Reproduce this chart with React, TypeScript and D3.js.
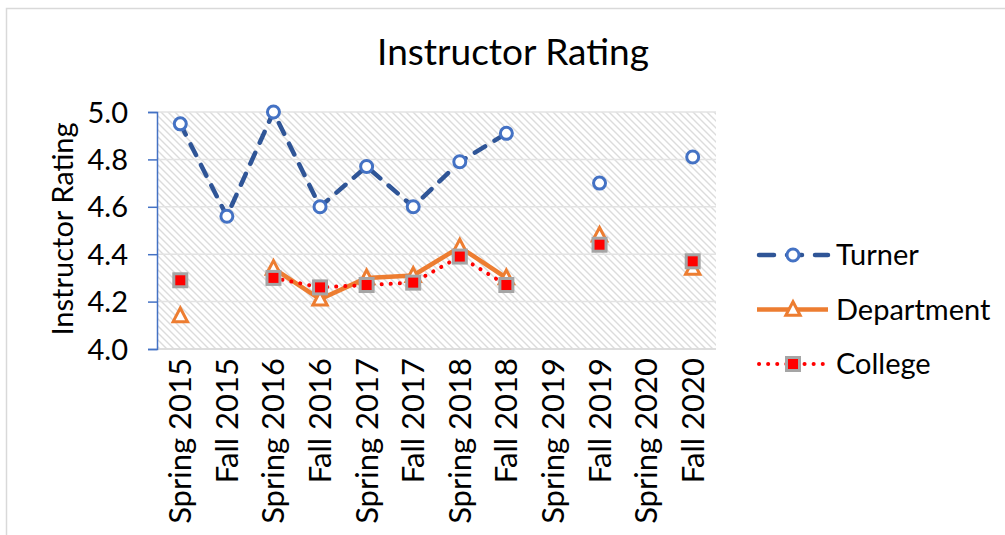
import { useRef, useEffect } from "react";
import * as d3 from "d3";

const categories = [
  "Spring 2015",
  "Fall 2015",
  "Spring 2016",
  "Fall 2016",
  "Spring 2017",
  "Fall 2017",
  "Spring 2018",
  "Fall 2018",
  "Spring 2019",
  "Fall 2019",
  "Spring 2020",
  "Fall 2020",
];
const turner = [4.95, 4.56, 5.0, 4.6, 4.77, 4.6, 4.79, 4.91, null, 4.7, null, 4.81];
const department = [4.14, null, 4.34, 4.21, 4.3, 4.31, 4.43, 4.3, null, 4.48, null, 4.34];
const college = [4.29, null, 4.3, 4.26, 4.27, 4.28, 4.39, 4.27, null, 4.44, null, 4.37];
const yTicks = [4.0, 4.2, 4.4, 4.6, 4.8, 5.0];
const seriesNames = ["Turner", "Department", "College"];

const FONT = "Lato, 'Open Sans', sans-serif";

export default function App() {
  const svgRef = useRef<SVGSVGElement | null>(null);

  useEffect(() => {
    const svg = d3.select(svgRef.current);
    svg.selectAll("*").remove();

    const W = 1005;
    const H = 535;
    const plot = { left: 157, right: 716, top: 112, bottom: 349 };

    // chart frame
    svg
      .append("rect")
      .attr("x", 6.5)
      .attr("y", 8.5)
      .attr("width", W)
      .attr("height", H)
      .attr("fill", "#fff")
      .attr("stroke", "#d9d9d9")
      .attr("stroke-width", 1.5);

    const defs = svg.append("defs");
    const pat = defs
      .append("pattern")
      .attr("id", "hatch")
      .attr("patternUnits", "userSpaceOnUse")
      .attr("width", 7)
      .attr("height", 7);
    pat
      .append("path")
      .attr("d", "M-1,-1 L8,8 M-1,6 L1,8 M6,-1 L8,1")
      .attr("stroke", "#dcdcdc")
      .attr("stroke-width", 1.4);

    const x = d3.scaleBand<string>().domain(categories).range([plot.left, plot.right]);
    const cx = (c: string) => (x(c) as number) + x.bandwidth() / 2;
    const y = d3.scaleLinear().domain([4, 5]).range([plot.bottom, plot.top]);

    // plot background hatch
    svg
      .append("rect")
      .attr("x", plot.left)
      .attr("y", plot.top)
      .attr("width", plot.right - plot.left)
      .attr("height", plot.bottom - plot.top)
      .attr("fill", "url(#hatch)");

    // gridlines
    svg
      .append("g")
      .selectAll("line")
      .data(yTicks)
      .join("line")
      .attr("x1", plot.left)
      .attr("x2", plot.right)
      .attr("y1", (d) => y(d))
      .attr("y2", (d) => y(d))
      .attr("stroke", "#e3e3e3")
      .attr("stroke-width", 1.5);

    // x axis line
    svg
      .append("line")
      .attr("x1", plot.left)
      .attr("x2", plot.right)
      .attr("y1", plot.bottom)
      .attr("y2", plot.bottom)
      .attr("stroke", "#d9d9d9")
      .attr("stroke-width", 1.5);

    // y axis
    const yAxis = svg
      .append("g")
      .attr("transform", `translate(${plot.left},0)`)
      .call(d3.axisLeft(y).tickValues(yTicks).tickFormat(d3.format(".1f")).tickSize(9).tickSizeOuter(9).tickPadding(20));
    yAxis.select(".domain").attr("stroke", "#4472c4").attr("stroke-width", 1.5);
    yAxis.selectAll(".tick line").attr("stroke", "#4472c4").attr("stroke-width", 1.5);
    yAxis
      .selectAll(".tick text")
      .attr("font-family", FONT)
      .attr("font-size", 29)
      .attr("fill", "#000")
      .attr("dy", "0.35em");

    // x labels
    svg
      .append("g")
      .selectAll("text")
      .data(categories)
      .join("text")
      .attr("transform", (d) => `translate(${cx(d) + 11},${plot.bottom + 9}) rotate(-90)`)
      .attr("text-anchor", "end")
      .attr("font-family", FONT)
      .attr("font-size", 31)
      .attr("fill", "#000")
      .text((d) => d);

    // titles
    svg
      .append("text")
      .attr("x", 513)
      .attr("y", 65)
      .attr("text-anchor", "middle")
      .attr("font-family", FONT)
      .attr("font-size", 37)
      .attr("fill", "#000")
      .text("Instructor Rating");

    svg
      .append("text")
      .attr("transform", `translate(73,229) rotate(-90)`)
      .attr("text-anchor", "middle")
      .attr("font-family", FONT)
      .attr("font-size", 29)
      .attr("fill", "#000")
      .text("Instructor Rating");

    const line = d3
      .line<number | null>()
      .defined((d) => d != null)
      .x((_, i) => cx(categories[i]))
      .y((d) => y(d as number));

    const pts = (vals: (number | null)[]) =>
      vals.map((v, i) => ({ v, c: categories[i] })).filter((p) => p.v != null) as { v: number; c: string }[];

    const tri = (px: number, py: number, s: number) =>
      `M${px},${py - s * 0.6} L${px + s * 0.55},${py + s * 0.45} L${px - s * 0.55},${py + s * 0.45} Z`;

    // Turner
    svg
      .append("path")
      .attr("d", line(turner))
      .attr("fill", "none")
      .attr("stroke", "#2f5597")
      .attr("stroke-width", 4.5)
      .attr("stroke-dasharray", "12,11")
      .attr("stroke-linecap", "round");
    svg
      .append("g")
      .selectAll("circle")
      .data(pts(turner))
      .join("circle")
      .attr("cx", (d) => cx(d.c))
      .attr("cy", (d) => y(d.v))
      .attr("r", 6)
      .attr("fill", "#fff")
      .attr("stroke", "#4472c4")
      .attr("stroke-width", 3);

    // Department
    svg
      .append("path")
      .attr("d", line(department))
      .attr("fill", "none")
      .attr("stroke", "#ed7d31")
      .attr("stroke-width", 4.5)
      .attr("stroke-linejoin", "round");
    svg
      .append("g")
      .selectAll("path")
      .data(pts(department))
      .join("path")
      .attr("d", (d) => tri(cx(d.c), y(d.v), 13))
      .attr("fill", "#fff")
      .attr("stroke", "#ed7d31")
      .attr("stroke-width", 3)
      .attr("stroke-linejoin", "miter");

    // College
    svg
      .append("path")
      .attr("d", line(college))
      .attr("fill", "none")
      .attr("stroke", "#ff0000")
      .attr("stroke-width", 4)
      .attr("stroke-dasharray", "0.1,9")
      .attr("stroke-linecap", "round");
    svg
      .append("g")
      .selectAll("rect")
      .data(pts(college))
      .join("rect")
      .attr("x", (d) => cx(d.c) - 6.5)
      .attr("y", (d) => y(d.v) - 6.5)
      .attr("width", 13)
      .attr("height", 13)
      .attr("fill", "#ff0000")
      .attr("stroke", "#a5a5a5")
      .attr("stroke-width", 3);

    // legend
    const lg = svg.append("g");
    const legY = d3.scalePoint<string>().domain(seriesNames).range([255, 364]);
    const lx0 = 757;
    const lx1 = 828;
    const lm = 793;
    seriesNames.forEach((name) => {
      const ly = legY(name) as number;
      const seg = lg
        .append("line")
        .attr("x1", lx0)
        .attr("x2", lx1)
        .attr("y1", ly)
        .attr("y2", ly)
        .attr("fill", "none");
      if (name === "Turner") {
        seg
          .attr("stroke", "#2f5597")
          .attr("stroke-width", 4.5)
          .attr("stroke-dasharray", "15,13")
          .attr("stroke-linecap", "round")
          .attr("x1", lx0 + 2);
        lg.append("circle")
          .attr("cx", lm)
          .attr("cy", ly)
          .attr("r", 6)
          .attr("fill", "#fff")
          .attr("stroke", "#4472c4")
          .attr("stroke-width", 3);
      } else if (name === "Department") {
        seg.attr("stroke", "#ed7d31").attr("stroke-width", 4.5);
        lg.append("path")
          .attr("d", tri(lm, ly, 13))
          .attr("fill", "#fff")
          .attr("stroke", "#ed7d31")
          .attr("stroke-width", 3);
      } else {
        seg
          .attr("stroke", "#ff0000")
          .attr("stroke-width", 4)
          .attr("stroke-dasharray", "0.1,9")
          .attr("stroke-linecap", "round")
          .attr("x1", lx0 + 2);
        lg.append("rect")
          .attr("x", lm - 6.5)
          .attr("y", ly - 6.5)
          .attr("width", 13)
          .attr("height", 13)
          .attr("fill", "#ff0000")
          .attr("stroke", "#a5a5a5")
          .attr("stroke-width", 3);
      }
      lg.append("text")
        .attr("x", 836)
        .attr("y", ly)
        .attr("dy", "0.35em")
        .attr("font-family", FONT)
        .attr("font-size", 29)
        .attr("fill", "#000")
        .text(name);
    });
  }, []);

  return (
    <div style={{ position: "absolute", left: 0, top: 0, width: 1005, height: 535 }}>
      <svg ref={svgRef} width={1005} height={535} style={{ display: "block" }} />
    </div>
  );
}
